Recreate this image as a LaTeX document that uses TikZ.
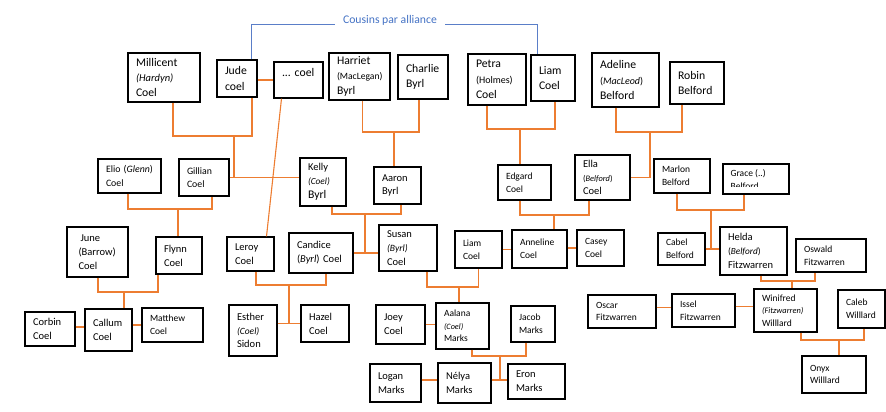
\documentclass[tikz,border=0pt]{standalone}
\usepackage{fontspec}
\setmainfont{Carlito}
\definecolor{lineorange}{HTML}{ED7D31}
\definecolor{cousblue}{HTML}{4472C4}
\definecolor{couslineblue}{HTML}{5A7EC8}
\newcommand\szL{\fontsize{11.7}{15.4}\selectfont}
\newcommand\szM{\fontsize{10.5}{13.8}\selectfont}
\newcommand\szS{\fontsize{9.5}{12.7}\selectfont}
\newcommand\szG{\fontsize{9.8}{13.2}\selectfont}
\newcommand\itsm[2]{{\fontsize{#1}{#1}\selectfont\itshape #2}}
\newcommand\upsm[2]{{\fontsize{#1}{#1}\selectfont #2}}
\tikzset{
  pbox/.style={draw=black, line width=1.2pt, fill=white, inner xsep=8pt, inner ysep=0pt, align=left, anchor=center},
  conn/.style={draw=lineorange, line width=1.1pt},
  cous/.style={draw=couslineblue, line width=0.9pt},
}
\newcommand\pbx[7][]{%
  \pgfmathsetmacro\bw{#5-#3}%
  \pgfmathsetmacro\bh{#6-#4}%
  \pgfmathsetmacro\tw{#5-#3-16}%
  \node[pbox,minimum width=\bw pt,minimum height=\bh pt,text width=\tw pt,#1] (#2) at ({(#3+#5)/2},{(#4+#6)/2}) {#7};}
\begin{document}
\begin{tikzpicture}[x=1pt,y=-1pt]
\useasboundingbox (0,0) rectangle (886,412);
% ---- top row
\pbx[font=\szL]{mill}{128}{53}{200}{102}{Millicent\\\itsm{10.5}{(Hardyn)}\\Coel}
\pbx[font=\szL]{jude}{217}{60}{257}{97}{Jude\\coel}
\pbx[font=\szL]{coel}{274}{62}{323}{98}{...~coel\\\mbox{}}
\pbx[font=\szL]{harr}{329}{53}{390}{100}{Harriet\\\upsm{9.6}{(MacLegan)}\\Byrl}
\pbx[font=\szL]{charl}{398}{55}{448}{99}{Charlie\\Byrl}
\pbx[font=\szL]{petra}{468}{54}{526}{105}{Petra\\\upsm{10}{(Holmes)}\\Coel}
\pbx[font=\szL]{liamA}{531}{55}{575}{101}{Liam\\Coel}
\pbx[font=\szL]{adel}{592}{53}{659}{107}{Adeline\\\upsm{10}{(\textit{MacLeod})}\\Belford}
\pbx[font=\szL]{robin}{670}{62}{724}{104}{Robin\\Belford}
% ---- second row
\pbx[font=\szG]{elio}{98}{159}{161}{193}{Elio~(\textit{Glenn})\\Coel}
\pbx[font=\szG]{gill}{179}{159}{229}{196}{Gillian\\Coel}
\pbx[font=\szM]{kelly}{300}{158}{346}{206}{Kelly\\\itsm{9.3}{(Coel)}\\{\szL Byrl}}
\pbx[font=\szM]{aaron}{374}{167}{421}{204}{Aaron\\Byrl}
\pbx[font=\szS]{edg}{498}{165}{551}{200}{Edgard\\Coel}
\pbx[font=\szM]{ella}{575}{155}{630}{200}{Ella\\\upsm{8.4}{(\textit{Belford})}\\Coel}
\pbx[font=\szS]{marl}{654}{159}{710}{193}{Marlon\\Belford}
\pbx[font=\szS]{grace}{723}{164}{789}{194}{}
\begin{scope}
  \clip (grace.north west) rectangle ([yshift=8pt]grace.south east);
  \node[anchor=north west, align=left, font=\szS, inner sep=0pt] (gracet) at ([xshift=8pt,yshift=-6pt]grace.north west) {Grace~(..)\\Belford};
\end{scope}
% ---- third row
\pbx[font=\szM]{june}{67}{227}{128}{277}{\hspace*{5.5pt}June\\\hspace*{3.5pt}(Barrow)\\\hspace*{3.5pt}Coel}
\pbx[font=\szM]{flynn}{156}{237}{202}{274}{Flynn\\Coel}
\pbx[font=\szM]{leroy}{227}{237}{274}{271}{Leroy\\Coel}
\pbx[font=\szM]{cand}{289}{233}{353}{273}{Candice\\(\textit{Byrl})~Coel}
\pbx[font=\szM]{susan}{379}{225}{437}{271}{Susan\\\itsm{9.6}{(Byrl)}\\Coel}
\pbx[font=\szS]{liamB}{455}{231}{502}{268}{Liam\\Coel}
\pbx[font=\szS]{anne}{512}{230}{567}{268}{Anneline\\Coel}
\pbx[font=\szS]{casey}{577}{230}{624}{266}{Casey\\Coel}
\pbx[font=\szS]{cabel}{658}{233}{705}{265}{Cabel\\Belford}
\pbx[font=\szM]{helda}{720}{227}{787}{275}{Helda\\\upsm{9.3}{(\textit{Belford})}\\Fitzwarren}
\pbx[font=\szS]{osw}{796}{239}{866}{272}{Oswald\\Fitzwarren}
% ---- fourth row
\pbx[font=\szM]{corbin}{25}{312}{75}{346}{Corbin\\Coel}
\pbx[font=\szM]{callum}{85}{309}{132}{351}{Callum\\Coel}
\pbx[font=\szS]{matt}{142}{308}{203}{342}{Matthew\\Coel}
\pbx[font=\szM]{esther}{229}{305}{277}{356}{Esther\\\itsm{9.5}{(Coel)}\\Sidon}
\pbx[font=\szM]{hazel}{301}{305}{349}{342}{Hazel\\Coel}
\pbx[font=\szM]{joey}{376}{305}{425}{344}{Joey\\Coel}
\pbx[font=\szS]{aalana}{436}{303}{489}{349}{Aalana\\\itsm{8.2}{(Coel)}\\Marks}
\pbx[font=\szS]{jacob}{511}{306}{555}{342}{Jacob\\Marks}
\pbx[font=\szS]{oscar}{588}{295}{656}{328}{Oscar\\Fitzwarren}
\pbx[font=\szS]{issel}{672}{294}{735}{327}{Issel\\Fitzwarren}
\pbx[font=\szS]{wini}{754}{289}{817}{332}{Winifred\\\itsm{8.4}{(Fitzwarren)}\\Willlard}
\pbx[font=\szS]{caleb}{838}{290}{885}{328}{Caleb\\Willlard}
% ---- bottom row
\pbx[font=\szM]{logan}{370}{364}{421}{402}{Logan\\Marks}
\pbx[font=\szM]{nelya}{438}{363}{491}{403}{Nélya\\Marks}
\pbx[font=\szM]{eron}{508}{364}{565}{399}{Eron\\Marks}
\pbx[font=\szS]{onyx}{802}{356}{866}{393}{Onyx\\Willlard}
% ---- cousins label
\node[anchor=base, text=cousblue, font=\fontsize{11.7}{14}\selectfont, inner xsep=8pt, inner ysep=0pt] (cous) at (390,24) {Cousins par alliance};
\draw[cous] ([xshift=14pt]jude.north) |- (cous.base west);
\draw[cous] (cous.base east) -| ([xshift=-16pt]liamA.north);
% ---- junctions
\coordinate (jMJ) at (234,136);
\coordinate (jHC) at (394,132);
\coordinate (jKA) at (365,214);
\coordinate (jLC) at (289,285);
\coordinate (jEG) at (178,209);
\coordinate (jJF) at (124,292);
\coordinate (jSL) at (459,287);
\coordinate (jAJ) at (500,356);
\coordinate (jNE) at (500,380);
\coordinate (jPL) at (520,129);
\coordinate (jEE) at (554,215);
\coordinate (jAR) at (650,132);
\coordinate (jMG) at (711,210);
\coordinate (jHO) at (792,281);
\coordinate (jWC) at (839,340);
% ---- connectors
\draw[conn] ([xshift=9pt]mill.south) |- (jMJ) -| ([xshift=15pt]jude.south);
\draw[conn] (jMJ) -- (jMJ |- gill.east);
\draw[conn] (gill.east) -- (gill.east -| kelly.west);
\draw[conn] (coel.west -| jude.east) -- (coel.west);
\draw[conn] ([xshift=-17pt]coel.south) -- ([xshift=16pt]leroy.north);
\draw[conn] ([xshift=3pt]harr.south) |- (jHC) -| ([xshift=-4pt]charl.south);
\draw[conn] (jHC) -- (jHC |- aaron.north);
\draw[conn] ([xshift=9pt]kelly.south) |- (jKA) -| ([xshift=3.5pt]aaron.south);
\draw[conn] (jKA) -- (jKA |- cand.east);
\draw[conn] (cand.east) -- (cand.east -| susan.west);
\draw[conn] ([xshift=5.5pt]leroy.south) |- (jLC) -| ([xshift=5pt]cand.south);
\draw[conn] (jLC) -- (jLC |- hazel.west);
\draw[conn] (hazel.west -| esther.east) -- (hazel.west);
\draw[conn] ([xshift=-1.5pt]elio.south) |- (jEG) -| ([xshift=8pt]gill.south);
\draw[conn] (jEG) -- (jEG |- flynn.north);
\draw[conn] ([xshift=0.5pt]june.south) |- (jJF) -| ([xshift=-21pt]flynn.south);
\draw[conn] (jJF) -- (jJF |- callum.north);
\draw[conn] ([yshift=2pt]corbin.east) -- ([yshift=2pt]corbin.east -| callum.west);
\draw[conn] (matt.west -| callum.east) -- (matt.west);
\draw[conn] ([xshift=19pt]susan.south) |- (jSL) -| (liamB.south);
\draw[conn] (jSL) -- (jSL |- aalana.north);
\draw[conn] (joey.east) -- (joey.east -| aalana.west);
\draw[conn] ([xshift=9.5pt]aalana.south) |- (jAJ) -| ([xshift=-7pt]jacob.south);
\draw[conn] (jAJ) -- (jNE);
\draw[conn] ([yshift=3pt]logan.east) -- ([yshift=3pt]logan.east -| nelya.west);
\draw[conn] ([yshift=3pt]nelya.east) -- ([yshift=3pt]nelya.east -| eron.west);
\draw[conn] ([xshift=-10pt]petra.south) |- (jPL) -| ([xshift=2pt]liamA.south);
\draw[conn] (jPL) -- (jPL |- edg.north);
\draw[conn] ([xshift=-4.5pt]edg.south) |- (jEE) -| ([xshift=-13.5pt]ella.south);
\draw[conn] (jEE) -- (jEE |- anne.north);
\draw[conn] (liamB.east) -- (liamB.east -| anne.west);
\draw[conn] (casey.west -| anne.east) -- (casey.west);
\draw[conn] ([xshift=-9.5pt]adel.south) |- (jAR) -| ([xshift=-15pt]robin.south);
\draw[conn] (jAR) -- (jAR |- ella.east) -- (ella.east);
\draw[conn] ([xshift=-5pt]marl.south) |- (jMG) -| ([xshift=-12pt]grace.south);
\draw[conn] (jMG) -- (jMG |- cabel.east);
\draw[conn] (cabel.east) -- (cabel.east -| helda.west);
\draw[conn] ([xshift=7.5pt]helda.south) |- (jHO) -| ([xshift=-16pt]osw.south);
\draw[conn] (jHO) -- (jHO |- wini.north);
\draw[conn] ([yshift=4pt]oscar.east) -- ([yshift=4pt]oscar.east -| issel.west);
\draw[conn] ([yshift=4pt]issel.east) -- ([yshift=4pt]issel.east -| wini.west);
\draw[conn] ([xshift=15.5pt]wini.south) |- (jWC) -| ([xshift=2.5pt]caleb.south);
\draw[conn] (jWC) -- (jWC |- onyx.north);
\end{tikzpicture}
\end{document}
